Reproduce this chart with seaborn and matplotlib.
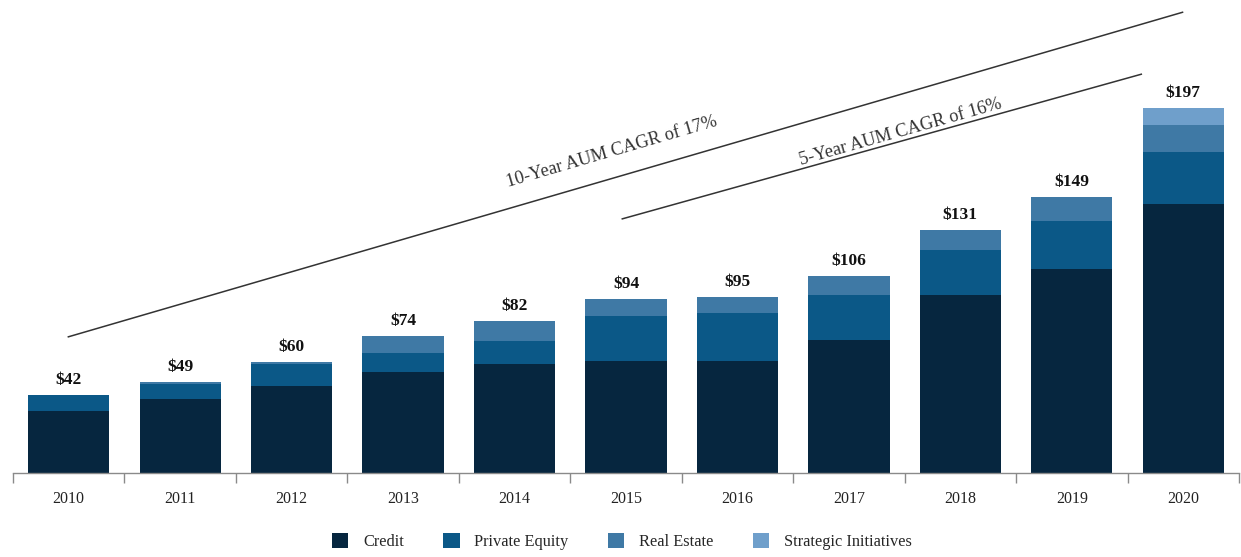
import matplotlib
matplotlib.use('Agg')
import matplotlib.pyplot as plt
from matplotlib.patches import Patch
import numpy as np
import pandas as pd
import seaborn as sns

# AUM by business line ($bn)
years = ['2010', '2011', '2012', '2013', '2014', '2015', '2016', '2017', '2018', '2019', '2020']
credit = [33.5, 40, 47, 54.5, 59, 60.5, 60.5, 71.5, 96, 110, 145]
private_equity = [8.5, 8, 11.5, 10, 12, 24, 25.5, 24.5, 24, 26, 28]
real_estate = [0, 1, 1.5, 9.5, 11, 9.5, 9, 10, 11, 13, 14.5]
strategic = [0, 0, 0, 0, 0, 0, 0, 0, 0, 0, 9.5]
totals = [42, 49, 60, 74, 82, 94, 95, 106, 131, 149, 197]

series_names = ['Credit', 'Private Equity', 'Real Estate', 'Strategic Initiatives']
colors = ['#06263f', '#0b5887', '#3f79a5', '#6f9fcb']

df = pd.DataFrame({'Year': years, 'Credit': credit, 'Private Equity': private_equity,
                   'Real Estate': real_estate, 'Strategic Initiatives': strategic})

sns.set_style('white')
plt.rcParams['font.family'] = ['Liberation Serif', 'DejaVu Serif']

fig = plt.figure(figsize=(12.41, 5.57), dpi=100)
ax = fig.add_axes([13 / 1241, 84 / 557, 1226 / 1241, 473 / 557])

bottom = np.zeros(len(years))
for name, col in zip(series_names, colors):
    sns.barplot(data=df, x='Year', y=name, color=col, bottom=bottom, width=0.73,
                ax=ax, saturation=1, linewidth=0)
    bottom = bottom + df[name].values

# total labels
for i, t in enumerate(totals):
    ax.annotate(f'\\${t}', (i, bottom[i]), xytext=(0, 5), textcoords='offset points',
                ha='center', va='bottom', fontsize=12.5, fontweight='bold', color='#111111')

# CAGR annotation lines
ax.plot([-0.01, 10.0], [73.3, 248.5], color='#333333', lw=1.1, solid_capstyle='butt')
ax.plot([4.96, 9.63], [136.9, 215.1], color='#333333', lw=1.1, solid_capstyle='butt')
ax.text(4.87, 173, '10-Year AUM CAGR of 17%', rotation=16.3, ha='center', va='center',
        fontsize=13.2, color='#333333', rotation_mode='anchor')
ax.text(7.46, 183.5, '5-Year AUM CAGR of 16%', rotation=15.8, ha='center', va='center',
        fontsize=13.2, color='#333333', rotation_mode='anchor')

ax.set_xlim(-0.5, len(years) - 0.5)
ax.set_ylim(0, 255)
ax.set_xlabel('')
ax.set_ylabel('')
ax.set_yticks([])
for s in ['top', 'right', 'left']:
    ax.spines[s].set_visible(False)
ax.spines['bottom'].set_color('#8a8a8a')
ax.spines['bottom'].set_linewidth(1.0)

ax.set_xticks(range(len(years)))
ax.set_xticklabels(years, fontsize=11.5, color='#222222')
ax.tick_params(axis='x', which='major', length=0, pad=13)
ax.set_xticks(np.arange(-0.5, len(years), 1.0), minor=True)
ax.tick_params(axis='x', which='minor', length=7, color='#8a8a8a', width=1.0, direction='out')
ax.tick_params(axis='x', which='minor', bottom=True)

handles = [Patch(facecolor=c, edgecolor='none', label=n) for n, c in zip(series_names, colors)]
fig.legend(handles=handles, loc='center', bbox_to_anchor=(0.501, 0.028), ncol=4, frameon=False,
           fontsize=11.8, handlelength=1.0, handleheight=1.0, columnspacing=2.4, handletextpad=0.9)

plt.savefig('out.png', dpi=100)
